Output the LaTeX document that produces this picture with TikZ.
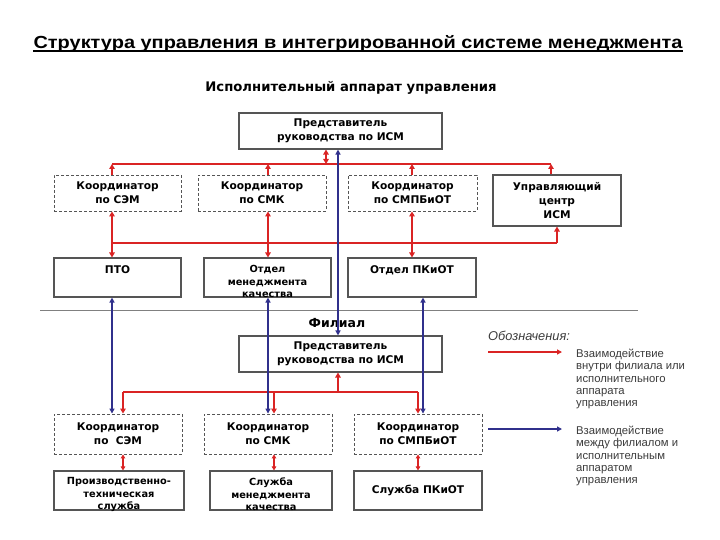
\documentclass[tikz,border=0pt]{standalone}
\usepackage{fontspec}
\setmainfont{Liberation Sans}
\newfontfamily\cf{DejaVu Sans}
\usetikzlibrary{arrows.meta}
\definecolor{rd}{RGB}{218,36,36}
\definecolor{bl}{RGB}{48,48,140}
\definecolor{bx}{RGB}{85,85,85}
\definecolor{lg}{RGB}{60,60,60}
\begin{document}
\begin{tikzpicture}[x=1pt,y=-1pt,
  box/.style={draw=bx, line width=1.1pt, fill=white, align=center, inner sep=0pt, font=\cf\bfseries\fontsize{10.6}{14}\selectfont},
  dbox/.style={box, line width=0.9pt, dash pattern=on 3pt off 2pt},
  smt/.style={align=center, inner sep=0pt, font=\cf\bfseries\fontsize{9.8}{12.5}\selectfont},
  rl/.style={draw=rd, line width=2.2pt},
  ra/.style={rl, -{Triangle[length=5pt,width=5.5pt]}},
  rda/.style={rl, {Triangle[length=5pt,width=5.5pt]}-{Triangle[length=5pt,width=5.5pt]}},
  rds/.style={draw=rd, line width=1.4pt, {Triangle[length=4pt,width=4.5pt]}-{Triangle[length=4pt,width=4.5pt]}},
  ba/.style={draw=bl, line width=1.9pt, {Triangle[length=5pt,width=5pt]}-{Triangle[length=5pt,width=5pt]}},
  lgt/.style={anchor=north west, inner sep=0pt, align=left, text=lg, font=\fontsize{11.3}{12.3}\selectfont},
]
\useasboundingbox (0,0) rectangle (720,540);
\fill[white] (0,0) rectangle (720,540);

% title
\node[anchor=base, inner sep=0pt] (title) at (358,48.5) {\scalebox{1.14}[1]{\fontsize{17.5}{20}\selectfont\bfseries Структура управления в интегрированной системе менеджмента}};
\draw[line width=1.3pt] ([yshift=-2.4pt]title.base west) -- ([yshift=-2.4pt]title.base east);
\node (exec) at (351,88) {\cf\bfseries\fontsize{13.2}{15}\selectfont Исполнительный аппарат управления};

% top level
\node[box, minimum width=203pt, minimum height=36pt] (rep) at (340.5,131) {Представитель\\руководства по ИСМ};
\node[dbox, minimum width=127pt, minimum height=36pt] (k1) at (117.5,193) {Координатор\\по СЭМ};
\node[dbox, minimum width=128pt, minimum height=36pt] (k2) at (262,193) {Координатор\\по СМК};
\node[dbox, minimum width=129pt, minimum height=36pt] (k3) at (412.5,193) {Координатор\\по СМПБиОТ};
\node[box, minimum width=128pt, minimum height=51pt] (uc) at (557,200.5) {Управляющий\\центр\\ИСМ};
\node[box, minimum width=127pt, minimum height=39pt] (pto) at (117.5,277.5) {ПТО\\[2pt]~};
\node[box, minimum width=127pt, minimum height=39pt] (omk) at (267.5,277.5) {};
\node[smt] (omkt) at (267.5,281.5) {Отдел\\менеджмента\\качества};
\node[box, minimum width=128pt, minimum height=39pt] (pkot) at (412,277.5) {Отдел ПКиОТ\\[2pt]~};

% separator
\coordinate (sepL) at (40,310);
\coordinate (sepR) at (638,310);
\draw[gray, line width=0.9pt] (sepL) -- (sepR);
\node (fil) at (337,323) {\cf\bfseries\fontsize{12.5}{14}\selectfont Филиал};

% branch
\node[box, minimum width=203pt, minimum height=36pt] (brep) at (340.5,354) {Представитель\\руководства по ИСМ};
\node[dbox, minimum width=128pt, minimum height=40pt] (b1) at (118,434) {Координатор\\по~~СЭМ};
\node[dbox, minimum width=128pt, minimum height=40pt] (b2) at (268,434) {Координатор\\по СМК};
\node[dbox, minimum width=128pt, minimum height=40pt] (b3) at (418,434) {Координатор\\по СМПБиОТ};
\node[box, minimum width=130pt, minimum height=39pt] (s1) at (119,490.5) {};
\node[smt] (s1t) at (119,494.5) {Производственно-\\техническая\\служба};
\node[box, minimum width=122pt, minimum height=39pt] (s2) at (271,490.5) {};
\node[smt] (s2t) at (271,494.5) {Служба\\менеджмента\\качества};
\node[box, minimum width=128pt, minimum height=39pt] (s3) at (418,490.5) {Служба ПКиОТ};

% coordinates for vertical lines and buses
\coordinate (L1) at (0,164);
\coordinate (L2) at (0,243);
\coordinate (L3) at (0,392);
\coordinate (xA) at (112,0);
\coordinate (xB) at (268,0);
\coordinate (xC) at (412,0);
\coordinate (xD) at (551,0);
\coordinate (xE) at (326,0);
\coordinate (xF) at (557,0);
\coordinate (xG) at (423,0);
\coordinate (xH) at (338,0);
\coordinate (xI) at (123,0);
\coordinate (xJ) at (418,0);
\coordinate (xK) at (274,0);

% top red bus
\draw[rl] (xA |- L1) -- (xD |- L1);
\draw[ra] (k1.north -| xA) -- (xA |- L1);
\draw[ra] (k2.north -| xB) -- (xB |- L1);
\draw[ra] (k3.north -| xC) -- (xC |- L1);
\draw[ra] (uc.north -| xD) -- (xD |- L1);
\draw[rda] (rep.south -| xE) -- (xE |- L1);

% second red bus
\draw[rl] (xA |- L2) -- (xF |- L2);
\draw[rda] (k1.south -| xA) -- (pto.north -| xA);
\draw[rda] (k2.south -| xB) -- (omk.north -| xB);
\draw[rda] (k3.south -| xC) -- (pkot.north -| xC);
\draw[ra] (xF |- L2) -- (uc.south -| xF);

% branch red bus
\draw[rl] (xI |- L3) -- (xJ |- L3);
\draw[ra] (xH |- L3) -- (brep.south -| xH);
\draw[ra] (xI |- L3) -- (b1.north -| xI);
\draw[ra] (xK |- L3) -- (b2.north -| xK);
\draw[ra] (xJ |- L3) -- (b3.north -| xJ);
\draw[rds] (b1.south -| xI) -- (s1.north -| xI);
\draw[rds] (b2.south -| xK) -- (s2.north -| xK);
\draw[rds] (b3.south -| xJ) -- (s3.north -| xJ);

% blue links
\draw[ba] (rep.south -| xH) -- (brep.north -| xH);
\draw[ba] (pto.south -| xA) -- (b1.north -| xA);
\draw[ba] (omk.south -| xB) -- (b2.north -| xB);
\draw[ba] (pkot.south -| xG) -- (b3.north -| xG);

% legend
\node[anchor=west, inner sep=0pt, text=lg, font=\itshape\fontsize{12.8}{14}\selectfont] (legt) at (488,336) {Обозначения:};
\coordinate (lr1) at (488,352);
\coordinate (lr2) at (562,352);
\coordinate (lb1) at (488,429);
\coordinate (lb2) at (562,429);
\draw[draw=rd, line width=1.8pt, -{Triangle[length=5pt,width=5pt]}] (lr1) -- (lr2);
\draw[draw=bl, line width=1.6pt, -{Triangle[length=5pt,width=5pt]}] (lb1) -- (lb2);
\node[lgt] (leg1) at (576,349) {Взаимодействие\\внутри филиала или\\исполнительного\\аппарата\\управления};
\node[lgt] (leg2) at (576,426) {Взаимодействие\\между филиалом и\\исполнительным\\аппаратом\\управления};
\end{tikzpicture}
\end{document}
